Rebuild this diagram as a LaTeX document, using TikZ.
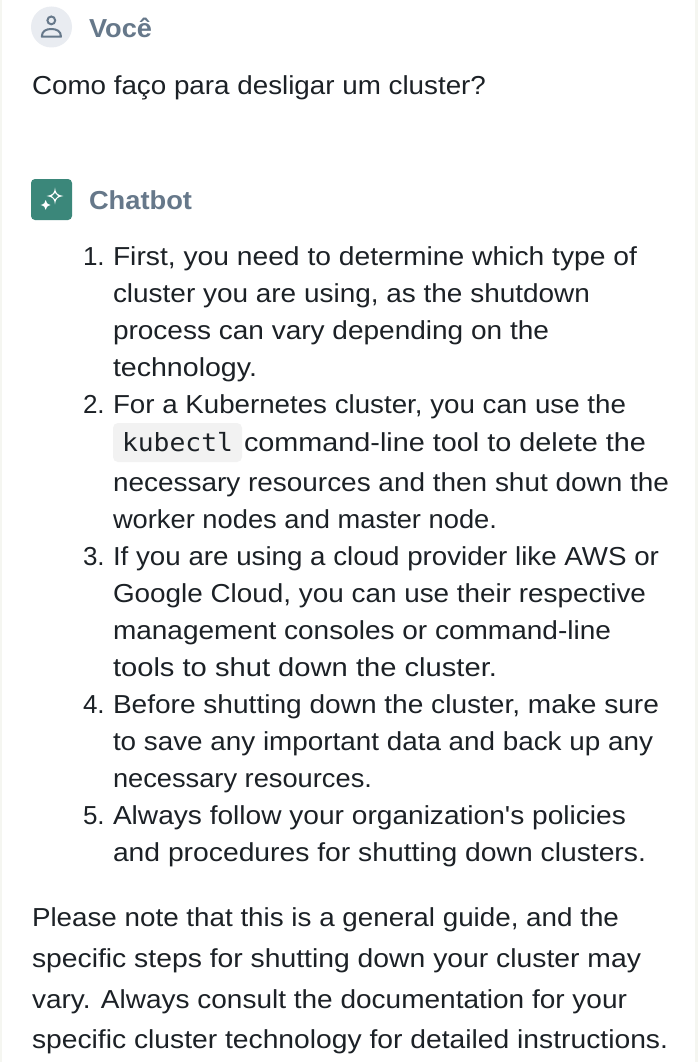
\documentclass[tikz,border=0pt]{standalone}
\usepackage{fontspec}
\usepackage{graphicx}
\setmainfont{Liberation Sans}
\newfontface\plainface{Liberation Sans}
\setmonofont{DejaVu Sans Mono}
\definecolor{ink}{HTML}{1C2126}
\definecolor{head}{HTML}{66788A}
\definecolor{teal}{HTML}{3B877A}
\definecolor{avatar}{HTML}{E9ECF1}
\definecolor{codebg}{HTML}{F2F2F2}
\definecolor{edge}{HTML}{F5F6F1}
\newcommand{\fitw}[2]{\resizebox{#1pt}{\height}{\strut #2}}
\tikzset{x=1pt,y=-1pt,
  txt/.style={anchor=base west,inner sep=0pt,outer sep=0pt,text=ink,font=\fontsize{26}{30}\selectfont},
  hd/.style={anchor=base west,inner sep=0pt,outer sep=0pt,text=head,font=\fontsize{26}{30}\selectfont\bfseries},
  mono/.style={anchor=base west,inner sep=0pt,outer sep=0pt,text=ink,font=\fontsize{25}{30}\ttfamily},
  glyph/.style={draw=head,line width=2pt,fill=none},
  star/.style={fill=white,draw=none}}
\newcommand{\tl}[5]{\node[txt] (#1) at (#2,#3) {\fitw{#4}{#5}};}
\begin{document}
\begin{tikzpicture}
\useasboundingbox (0,0) rectangle (698,1062);
\fill[white] (0,0) rectangle (698,1062);
\fill[edge] (0,0) rectangle (2,1062);
\fill[edge] (695,0) rectangle (698,1062);
% avatar
\fill[avatar] (51.5,27) circle (20.5);
\draw[glyph] (51.3,20.4) circle (3.9);
\draw[glyph,line join=round] (41.8,36.7) -- (61,36.7) .. controls (61,31) and (56.5,29) .. (51.3,29) .. controls (46.2,29) and (41.8,31) .. (41.8,36.7) -- cycle;
\node[hd] (you) at (89,38) {\resizebox{63pt}{\height}{Você}};
\tl{q}{32}{95}{454}{Como faço para desligar um cluster?}
% chatbot icon
\fill[teal,rounded corners=4pt] (31,179) rectangle (72,220);
\fill[star] (55,187.7) .. controls (55.6,193) and (57,195) .. (63.3,196) .. controls (57,197) and (55.6,199) .. (55,204.3) .. controls (54.4,199) and (53,197) .. (46.7,196) .. controls (53,195) and (54.4,193) .. (55,187.7) -- cycle;
\fill[teal] (55,193) -- (58,196) -- (55,199) -- (52,196) -- cycle;
\fill[star] (45.7,200) .. controls (46.1,203) and (47.2,204) .. (50.7,205) .. controls (47.2,206) and (46.1,207) .. (45.7,209.8) .. controls (45.3,207) and (44.2,206) .. (40.7,205) .. controls (44.2,204) and (45.3,203) .. (45.7,200) -- cycle;
\node[hd] (bot) at (89,209) {\resizebox{103pt}{\height}{Chatbot}};
% list
\node[txt] (n1) at (83,265) {1.};
\tl{a}{113}{265}{524}{First, you need to determine which type of}
\tl{b}{113}{302}{477}{cluster you are using, as the shutdown}
\tl{c}{113}{339}{436}{process can vary depending on the}
\tl{d}{113}{376}{144}{technology.}
\node[txt] (n2) at (83,413) {2.};
\tl{e}{113}{413}{513}{For a Kubernetes cluster, you can use the}
\fill[codebg,rounded corners=5pt] (113,423) rectangle (242,462);
\node[mono] (code) at (122,451) {\resizebox{111pt}{\height}{kubectl}};
\tl{f}{244}{451}{402}{command-line tool to delete the}
\tl{g}{113}{491}{556}{necessary resources and then shut down the}
\tl{h}{113}{528}{384}{worker nodes and master node.}
\node[txt] (n3) at (83,565) {3.};
\tl{i}{113}{565}{546}{If you are using a cloud provider like AWS or}
\tl{j}{113}{602}{533}{Google Cloud, you can use their respective}
\tl{k}{113}{639}{498}{management consoles or command-line}
\tl{l}{113}{676}{384}{tools to shut down the cluster.}
\node[txt] (n4) at (83,713) {4.};
\tl{m}{113}{713}{546}{Before shutting down the cluster, make sure}
\tl{n}{113}{750}{540}{to save any important data and back up any}
\tl{o}{113}{787}{259}{necessary resources.}
\node[txt] (n5) at (83,824) {5.};
\tl{p}{113}{824}{513}{Always follow your organization{\plainface '}s policies}
\tl{r}{113}{861}{533}{and procedures for shutting down clusters.}
\tl{s}{32}{926}{587}{Please note that this is a general guide, and the}
\tl{t}{32}{967}{609}{specific steps for shutting down your cluster may}
\tl{u}{32}{1008}{595}{vary. Always consult the documentation for your}
\tl{v}{32}{1048}{636}{specific cluster technology for detailed instructions.}
\end{tikzpicture}
\end{document}
